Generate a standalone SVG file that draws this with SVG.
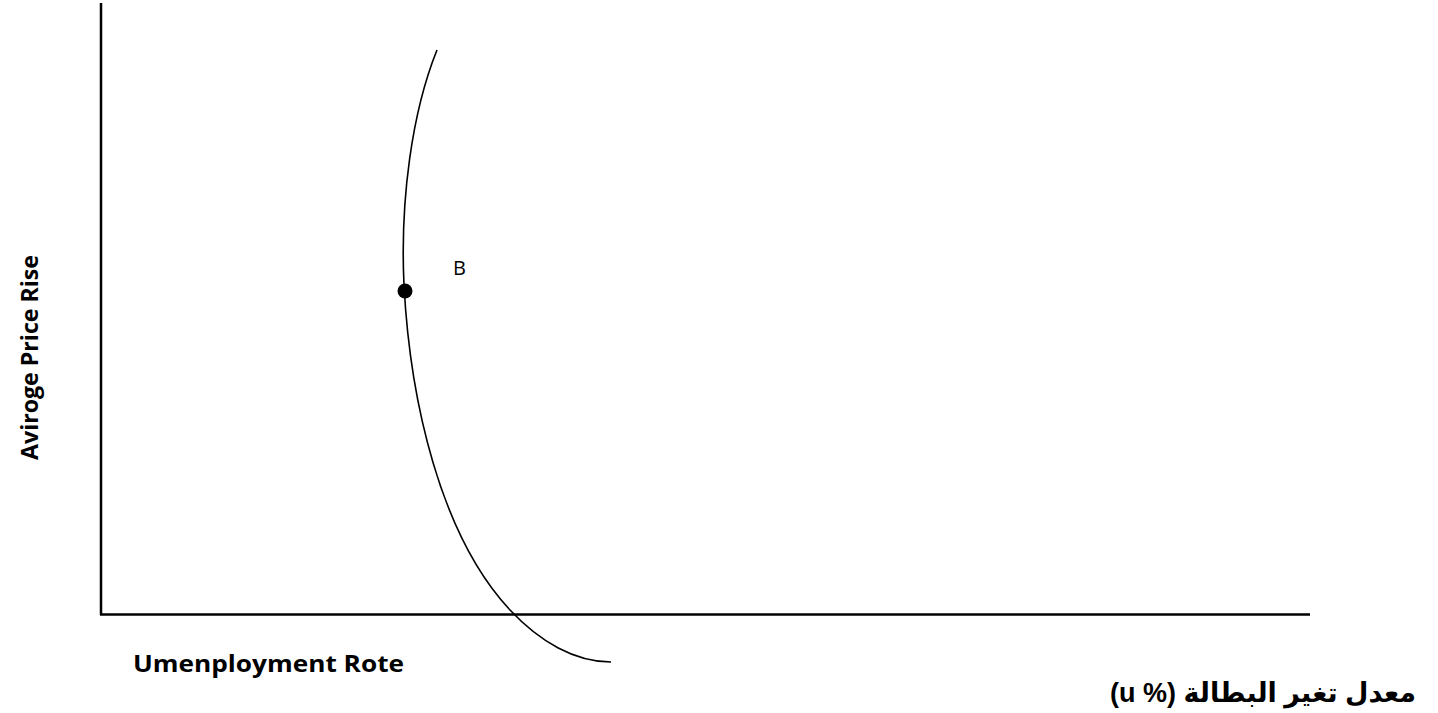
<svg xmlns="http://www.w3.org/2000/svg" width="1438" height="713" viewBox="0 0 1438 713">
<style>
.axis{stroke:#000;stroke-width:2.5;fill:none}
.curve{stroke:#000;stroke-width:1.6;fill:none}
.lbl{font-family:"Open Sans","Liberation Sans",sans-serif;font-weight:bold;font-size:24px;fill:#000}
.pt{font-family:"Open Sans","Liberation Sans",sans-serif;font-size:20px;fill:#000}
.ar{font-family:"Liberation Sans","DejaVu Sans",sans-serif;font-weight:bold;font-size:27px;fill:#000}
</style>
<rect width="1438" height="713" fill="#fff"/>
<g id="axes">
<line class="axis" x1="101" y1="3" x2="101" y2="615"/>
<line class="axis" x1="100" y1="614.5" x2="1310" y2="614.5"/>
</g>
<g id="connectors">
<path class="curve" d="M437,50 C412,112 400,200 404,285 C410,400 440,535 510,610 C540,642 575,662 611,662"/>
</g>
<g id="point-B">
<circle cx="405" cy="291" r="7.5" fill="#000"/>
<text class="pt" x="453" y="275">B</text>
</g>
<g id="y-label">
<text class="lbl" transform="translate(38,460) rotate(-90)" textLength="205" lengthAdjust="spacingAndGlyphs">Aviroge Price Rise</text>
</g>
<g id="x-label">
<text class="lbl" x="133" y="672" textLength="271" lengthAdjust="spacingAndGlyphs">Umenployment Rote</text>
</g>
<g id="x-label-ar">
<text class="ar" x="1416" y="702" direction="rtl" text-anchor="start">معدل تغير البطالة (% u)</text>
</g>
</svg>
